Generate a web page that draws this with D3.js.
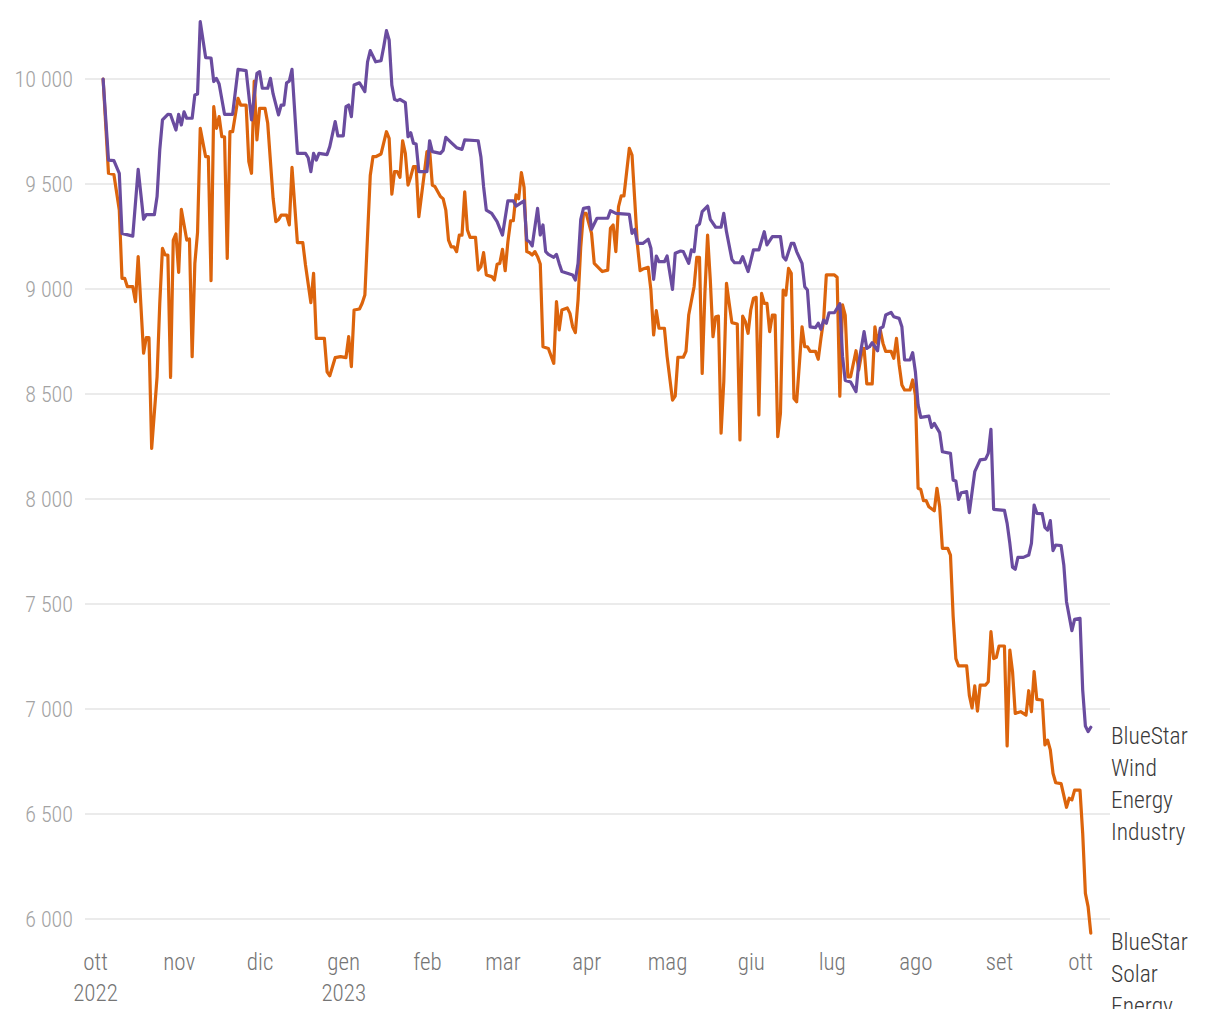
<!DOCTYPE html>
<html><head><meta charset="utf-8">
<script src="https://cdn.jsdelivr.net/npm/d3@7"></script>
<style>
body{margin:0;background:#fff;}
svg{display:block;}
svg text{font-family:"Roboto Condensed","Liberation Sans Narrow","DejaVu Sans Condensed",sans-serif;font-weight:300;}
</style></head><body>
<svg id="chart" width="1220" height="1009"></svg>
<script>
const seriesNames = [["BlueStar","Wind","Energy","Industry"],["BlueStar","Solar","Energy"]];
const seriesColors = ["#6a4c9f","#dc640c"];
const yTicks = [6000,6500,7000,7500,8000,8500,9000,9500,10000];
const yDomain = [6000,10000];
const xDomain = ["2022-10-01","2023-10-01"];
const monthLabels = ["gen","feb","mar","apr","mag","giu","lug","ago","set","ott","nov","dic"];

const windSeries = [
["2022-10-04",10000],["2022-10-06",9614],["2022-10-08",9611],["2022-10-10",9551],["2022-10-11",9265],["2022-10-15",9252],["2022-10-17",9570],["2022-10-19",9332],["2022-10-20",9354],["2022-10-23",9354],["2022-10-24",9440],["2022-10-25",9662],["2022-10-26",9805],["2022-10-28",9832],["2022-10-29",9830],["2022-10-31",9757],
["2022-11-01",9832],["2022-11-02",9781],["2022-11-03",9844],["2022-11-04",9813],["2022-11-06",9813],["2022-11-07",9924],["2022-11-08",9929],["2022-11-09",10273],["2022-11-11",10102],["2022-11-13",10100],["2022-11-14",9988],["2022-11-15",10003],["2022-11-16",9976],["2022-11-18",9832],["2022-11-21",9832],["2022-11-23",10046],["2022-11-26",10040],["2022-11-28",9805],["2022-11-30",10027],
["2022-12-01",10035],["2022-12-02",9956],["2022-12-04",9956],["2022-12-05",10003],["2022-12-06",9929],["2022-12-08",9829],["2022-12-09",9876],["2022-12-10",9876],["2022-12-11",9982],["2022-12-12",9990],["2022-12-13",10046],["2022-12-15",9646],["2022-12-18",9646],["2022-12-19",9625],["2022-12-20",9559],["2022-12-21",9646],["2022-12-22",9614],["2022-12-23",9646],["2022-12-26",9640],["2022-12-27",9678],["2022-12-29",9797],["2022-12-30",9729],
["2023-01-01",9729],["2023-01-02",9868],["2023-01-03",9876],["2023-01-04",9821],["2023-01-05",9971],["2023-01-07",9982],["2023-01-09",9940],["2023-01-10",10082],["2023-01-11",10135],["2023-01-13",10082],["2023-01-15",10087],["2023-01-16",10154],["2023-01-17",10230],["2023-01-18",10186],["2023-01-19",9971],["2023-01-20",9903],["2023-01-21",9897],["2023-01-22",9903],["2023-01-24",9887],["2023-01-25",9725],["2023-01-26",9744],["2023-01-27",9694],["2023-01-28",9690],["2023-01-29",9559],
["2023-02-01",9559],["2023-02-02",9706],["2023-02-03",9654],["2023-02-06",9646],["2023-02-07",9660],["2023-02-08",9722],["2023-02-10",9697],["2023-02-12",9673],["2023-02-14",9665],["2023-02-15",9710],["2023-02-20",9706],["2023-02-21",9630],["2023-02-22",9487],["2023-02-23",9376],["2023-02-25",9360],["2023-02-27",9321],["2023-02-28",9289],
["2023-03-01",9257],["2023-03-03",9420],["2023-03-05",9420],["2023-03-06",9395],["2023-03-09",9420],["2023-03-10",9233],["2023-03-11",9225],["2023-03-12",9205],["2023-03-14",9384],["2023-03-15",9257],["2023-03-16",9305],["2023-03-17",9178],["2023-03-18",9165],["2023-03-20",9151],["2023-03-21",9165],["2023-03-22",9122],["2023-03-23",9083],["2023-03-25",9075],["2023-03-27",9067],["2023-03-28",9043],["2023-03-29",9122],["2023-03-30",9332],["2023-03-31",9384],
["2023-04-02",9389],["2023-04-03",9284],["2023-04-05",9337],["2023-04-09",9337],["2023-04-10",9373],["2023-04-12",9360],["2023-04-17",9355],["2023-04-18",9265],["2023-04-19",9284],["2023-04-20",9217],["2023-04-22",9217],["2023-04-24",9237],["2023-04-25",9194],["2023-04-26",9046],["2023-04-27",9157],["2023-04-28",9130],["2023-04-30",9130],
["2023-05-01",9157],["2023-05-03",8998],["2023-05-04",9170],["2023-05-06",9181],["2023-05-07",9178],["2023-05-09",9122],["2023-05-10",9186],["2023-05-11",9178],["2023-05-12",9300],["2023-05-13",9310],["2023-05-14",9368],["2023-05-16",9395],["2023-05-17",9332],["2023-05-19",9294],["2023-05-21",9294],["2023-05-22",9360],["2023-05-23",9273],["2023-05-25",9141],["2023-05-26",9125],["2023-05-28",9125],["2023-05-29",9154],["2023-05-31",9083],
["2023-06-02",9186],["2023-06-04",9186],["2023-06-06",9273],["2023-06-07",9210],["2023-06-09",9249],["2023-06-12",9249],["2023-06-13",9154],["2023-06-14",9138],["2023-06-16",9217],["2023-06-17",9217],["2023-06-18",9178],["2023-06-20",9122],["2023-06-21",9011],["2023-06-22",8995],["2023-06-23",8820],["2023-06-25",8816],["2023-06-26",8837],["2023-06-27",8808],["2023-06-28",8852],["2023-06-29",8837],["2023-06-30",8887],
["2023-07-02",8887],["2023-07-04",8930],["2023-07-05",8680],["2023-07-06",8565],["2023-07-08",8557],["2023-07-10",8511],["2023-07-11",8646],["2023-07-13",8797],["2023-07-14",8717],["2023-07-15",8725],["2023-07-16",8744],["2023-07-18",8706],["2023-07-19",8813],["2023-07-20",8820],["2023-07-21",8876],["2023-07-23",8889],["2023-07-24",8868],["2023-07-26",8860],["2023-07-27",8820],["2023-07-28",8662],["2023-07-30",8662],["2023-07-31",8697],
["2023-08-01",8606],["2023-08-02",8448],["2023-08-03",8389],["2023-08-06",8395],["2023-08-07",8341],["2023-08-08",8360],["2023-08-10",8316],["2023-08-11",8225],["2023-08-14",8217],["2023-08-15",8090],["2023-08-16",8086],["2023-08-17",7998],["2023-08-18",8030],["2023-08-20",8035],["2023-08-21",7935],["2023-08-23",8130],["2023-08-25",8186],["2023-08-27",8190],["2023-08-28",8217],["2023-08-29",8332],["2023-08-30",7951],
["2023-09-03",7946],["2023-09-04",7884],["2023-09-05",7789],["2023-09-06",7675],["2023-09-07",7665],["2023-09-08",7722],["2023-09-10",7722],["2023-09-12",7733],["2023-09-13",7789],["2023-09-14",7971],["2023-09-15",7932],["2023-09-17",7930],["2023-09-18",7865],["2023-09-19",7852],["2023-09-20",7897],["2023-09-21",7754],["2023-09-22",7781],["2023-09-24",7778],["2023-09-25",7686],["2023-09-26",7511],["2023-09-28",7373],["2023-09-29",7427],
["2023-10-01",7432],["2023-10-02",7090],["2023-10-03",6919],["2023-10-04",6892],["2023-10-05",6913]
];

const solarSeries = [
["2022-10-04",10000],["2022-10-06",9551],["2022-10-08",9545],["2022-10-10",9376],["2022-10-11",9051],["2022-10-12",9051],["2022-10-13",9011],["2022-10-15",9011],["2022-10-16",8940],["2022-10-17",9154],["2022-10-19",8694],["2022-10-20",8768],["2022-10-21",8768],["2022-10-22",8241],["2022-10-24",8582],["2022-10-25",8932],["2022-10-26",9194],["2022-10-27",9162],["2022-10-28",9162],["2022-10-29",8579],["2022-10-30",9233],["2022-10-31",9262],
["2022-11-01",9079],["2022-11-02",9379],["2022-11-04",9233],["2022-11-05",9238],["2022-11-06",8678],["2022-11-07",9122],["2022-11-08",9270],["2022-11-09",9765],["2022-11-11",9630],["2022-11-12",9630],["2022-11-13",9040],["2022-11-14",9868],["2022-11-15",9765],["2022-11-16",9821],["2022-11-17",9725],["2022-11-18",9725],["2022-11-19",9146],["2022-11-20",9749],["2022-11-21",9749],["2022-11-23",9908],["2022-11-24",9876],["2022-11-26",9876],["2022-11-27",9606],["2022-11-28",9551],["2022-11-29",9990],["2022-11-30",9710],
["2022-12-01",9860],["2022-12-03",9860],["2022-12-04",9789],["2022-12-06",9432],["2022-12-07",9321],["2022-12-08",9330],["2022-12-09",9352],["2022-12-11",9352],["2022-12-12",9305],["2022-12-13",9579],["2022-12-15",9221],["2022-12-17",9221],["2022-12-18",9114],["2022-12-20",8935],["2022-12-21",9075],["2022-12-22",8765],["2022-12-25",8765],["2022-12-26",8606],["2022-12-27",8587],["2022-12-29",8673],["2022-12-31",8678],
["2023-01-02",8673],["2023-01-03",8773],["2023-01-04",8630],["2023-01-05",8900],["2023-01-07",8905],["2023-01-08",8932],["2023-01-09",8971],["2023-01-11",9540],["2023-01-12",9630],["2023-01-13",9630],["2023-01-15",9643],["2023-01-17",9749],["2023-01-18",9717],["2023-01-19",9452],["2023-01-20",9559],["2023-01-21",9559],["2023-01-22",9532],["2023-01-23",9706],["2023-01-24",9646],["2023-01-25",9495],["2023-01-26",9535],["2023-01-27",9583],["2023-01-28",9583],["2023-01-29",9344],["2023-01-31",9548],
["2023-02-01",9654],["2023-02-02",9660],["2023-02-03",9495],["2023-02-04",9487],["2023-02-06",9440],["2023-02-07",9430],["2023-02-08",9376],["2023-02-09",9233],["2023-02-10",9201],["2023-02-11",9201],["2023-02-12",9178],["2023-02-13",9257],["2023-02-14",9257],["2023-02-15",9463],["2023-02-16",9281],["2023-02-17",9246],["2023-02-19",9246],["2023-02-20",9090],["2023-02-21",9106],["2023-02-22",9173],["2023-02-23",9067],["2023-02-25",9059],["2023-02-26",9043],["2023-02-27",9118],["2023-02-28",9122],
["2023-03-01",9189],["2023-03-02",9087],["2023-03-03",9225],["2023-03-04",9325],["2023-03-05",9325],["2023-03-06",9448],["2023-03-07",9430],["2023-03-08",9554],["2023-03-09",9484],["2023-03-10",9178],["2023-03-11",9173],["2023-03-12",9162],["2023-03-13",9178],["2023-03-14",9154],["2023-03-15",9119],["2023-03-16",8725],["2023-03-18",8717],["2023-03-20",8646],["2023-03-21",8940],["2023-03-22",8805],["2023-03-23",8900],["2023-03-25",8910],["2023-03-26",8884],["2023-03-27",8820],["2023-03-28",8792],["2023-03-29",8948],["2023-03-30",9201],["2023-03-31",9360],
["2023-04-01",9360],["2023-04-03",9265],["2023-04-04",9122],["2023-04-07",9083],["2023-04-09",9090],["2023-04-10",9289],["2023-04-11",9305],["2023-04-12",9178],["2023-04-13",9392],["2023-04-14",9443],["2023-04-15",9443],["2023-04-17",9670],["2023-04-18",9638],["2023-04-19",9424],["2023-04-20",9210],["2023-04-21",9087],["2023-04-22",9095],["2023-04-24",9103],["2023-04-25",8995],["2023-04-26",8781],["2023-04-27",8897],["2023-04-28",8813],["2023-04-30",8813],
["2023-05-01",8678],["2023-05-03",8471],["2023-05-04",8490],["2023-05-05",8675],["2023-05-07",8675],["2023-05-08",8703],["2023-05-09",8876],["2023-05-11",9011],["2023-05-12",9151],["2023-05-13",9151],["2023-05-14",8598],["2023-05-15",8979],["2023-05-16",9257],["2023-05-17",9043],["2023-05-18",8773],["2023-05-19",8868],["2023-05-20",8871],["2023-05-21",8313],["2023-05-22",8559],["2023-05-23",9027],["2023-05-24",8932],["2023-05-25",8840],["2023-05-27",8833],["2023-05-28",8281],["2023-05-29",8871],["2023-05-30",8844],["2023-05-31",8789],
["2023-06-01",8900],["2023-06-02",8956],["2023-06-03",8960],["2023-06-04",8400],["2023-06-05",8979],["2023-06-06",8932],["2023-06-07",8932],["2023-06-08",8797],["2023-06-09",8876],["2023-06-10",8876],["2023-06-11",8297],["2023-06-12",8408],["2023-06-13",8995],["2023-06-14",8971],["2023-06-15",9098],["2023-06-16",9075],["2023-06-17",8479],["2023-06-18",8463],["2023-06-20",8820],["2023-06-21",8725],["2023-06-22",8725],["2023-06-23",8703],["2023-06-25",8703],["2023-06-26",8665],["2023-06-27",8765],["2023-06-28",8852],["2023-06-29",9067],
["2023-07-02",9067],["2023-07-03",9056],["2023-07-04",8490],["2023-07-05",8924],["2023-07-06",8876],["2023-07-07",8582],["2023-07-08",8582],["2023-07-10",8706],["2023-07-11",8614],["2023-07-12",8686],["2023-07-13",8717],["2023-07-14",8548],["2023-07-16",8548],["2023-07-17",8820],["2023-07-18",8741],["2023-07-19",8805],["2023-07-20",8741],["2023-07-21",8703],["2023-07-23",8703],["2023-07-24",8670],["2023-07-25",8765],["2023-07-26",8638],["2023-07-27",8543],["2023-07-28",8519],["2023-07-30",8519],["2023-07-31",8567],
["2023-08-01",8495],["2023-08-02",8051],["2023-08-03",8045],["2023-08-04",7992],["2023-08-05",7992],["2023-08-06",7963],["2023-08-08",7944],["2023-08-09",8051],["2023-08-10",7963],["2023-08-11",7765],["2023-08-13",7765],["2023-08-14",7733],["2023-08-15",7440],["2023-08-16",7240],["2023-08-17",7205],["2023-08-20",7205],["2023-08-21",7065],["2023-08-22",7005],["2023-08-23",7110],["2023-08-24",6990],["2023-08-25",7114],["2023-08-27",7114],["2023-08-28",7130],["2023-08-29",7368],["2023-08-30",7240],["2023-08-31",7246],
["2023-09-01",7300],["2023-09-03",7300],["2023-09-04",6824],["2023-09-05",7281],["2023-09-06",7178],["2023-09-07",6979],["2023-09-09",6987],["2023-09-11",6971],["2023-09-12",7087],["2023-09-13",6987],["2023-09-14",7178],["2023-09-15",7046],["2023-09-17",7043],["2023-09-18",6829],["2023-09-19",6852],["2023-09-20",6805],["2023-09-21",6694],["2023-09-22",6649],["2023-09-24",6645],["2023-09-26",6532],["2023-09-27",6575],["2023-09-28",6567],["2023-09-29",6614],
["2023-10-01",6614],["2023-10-02",6408],["2023-10-03",6122],["2023-10-04",6059],["2023-10-05",5933]
];

const parse = d3.utcParse("%Y-%m-%d");
const svg = d3.select("#chart");

const x = d3.scaleUtc().domain(xDomain.map(parse)).range([95, 1080]);
const y = d3.scaleLinear().domain(yDomain).range([919, 79]);

const fmt = d3.formatLocale({decimal: ",", thousands: " ", grouping: [3], currency: ["", "€"]}).format(",");

// gridlines
svg.append("g").selectAll("line").data(yTicks).join("line")
  .attr("x1", 85).attr("x2", 1110)
  .attr("y1", d => y(d)).attr("y2", d => y(d))
  .attr("stroke", "#e4e4e4").attr("stroke-width", 1.5);

// y axis labels
const yAxis = svg.append("g").attr("transform", "translate(73,0)")
  .call(d3.axisLeft(y).tickValues(yTicks).tickSize(0).tickPadding(0).tickFormat(fmt));
yAxis.select(".domain").remove();
yAxis.selectAll("text").attr("font-size", 22).attr("fill", "#a3a3a3")
  .style("font-family", null);

// x axis
const xAxis = svg.append("g").attr("transform", "translate(0,954)")
  .call(d3.axisBottom(x).ticks(d3.utcMonth.every(1)).tickSize(0).tickPadding(0)
    .tickFormat(d => monthLabels[d.getUTCMonth()]));
xAxis.select(".domain").remove();
xAxis.selectAll("text").attr("font-size", 23).attr("fill", "#757575");
xAxis.selectAll(".tick").filter((d, i) => i === 0 || d.getUTCMonth() === 0)
  .append("text").attr("y", 31).attr("dy", "0.71em")
  .attr("font-size", 23).attr("fill", "#757575").attr("text-anchor", "middle")
  .text(d => d.getUTCFullYear());

// lines
const line = d3.line().x(d => x(parse(d[0]))).y(d => y(d[1])).curve(d3.curveLinear);
const allSeries = [windSeries, solarSeries];
[1, 0].forEach(i => {
  svg.append("path").datum(allSeries[i])
    .attr("fill", "none").attr("stroke", seriesColors[i])
    .attr("stroke-width", 3.2).attr("stroke-linejoin", "round").attr("stroke-linecap", "round")
    .attr("d", line);
});

// end labels
allSeries.forEach((s, i) => {
  const last = s[s.length - 1];
  const t = svg.append("text").attr("x", 1111).attr("y", y(last[1]) + 17)
    .attr("font-size", 23.5).attr("fill", "#3a3a3a");
  seriesNames[i].forEach((w, j) => {
    t.append("tspan").attr("x", 1111).attr("dy", j === 0 ? 0 : 32).text(w);
  });
});
</script>
</body></html>
